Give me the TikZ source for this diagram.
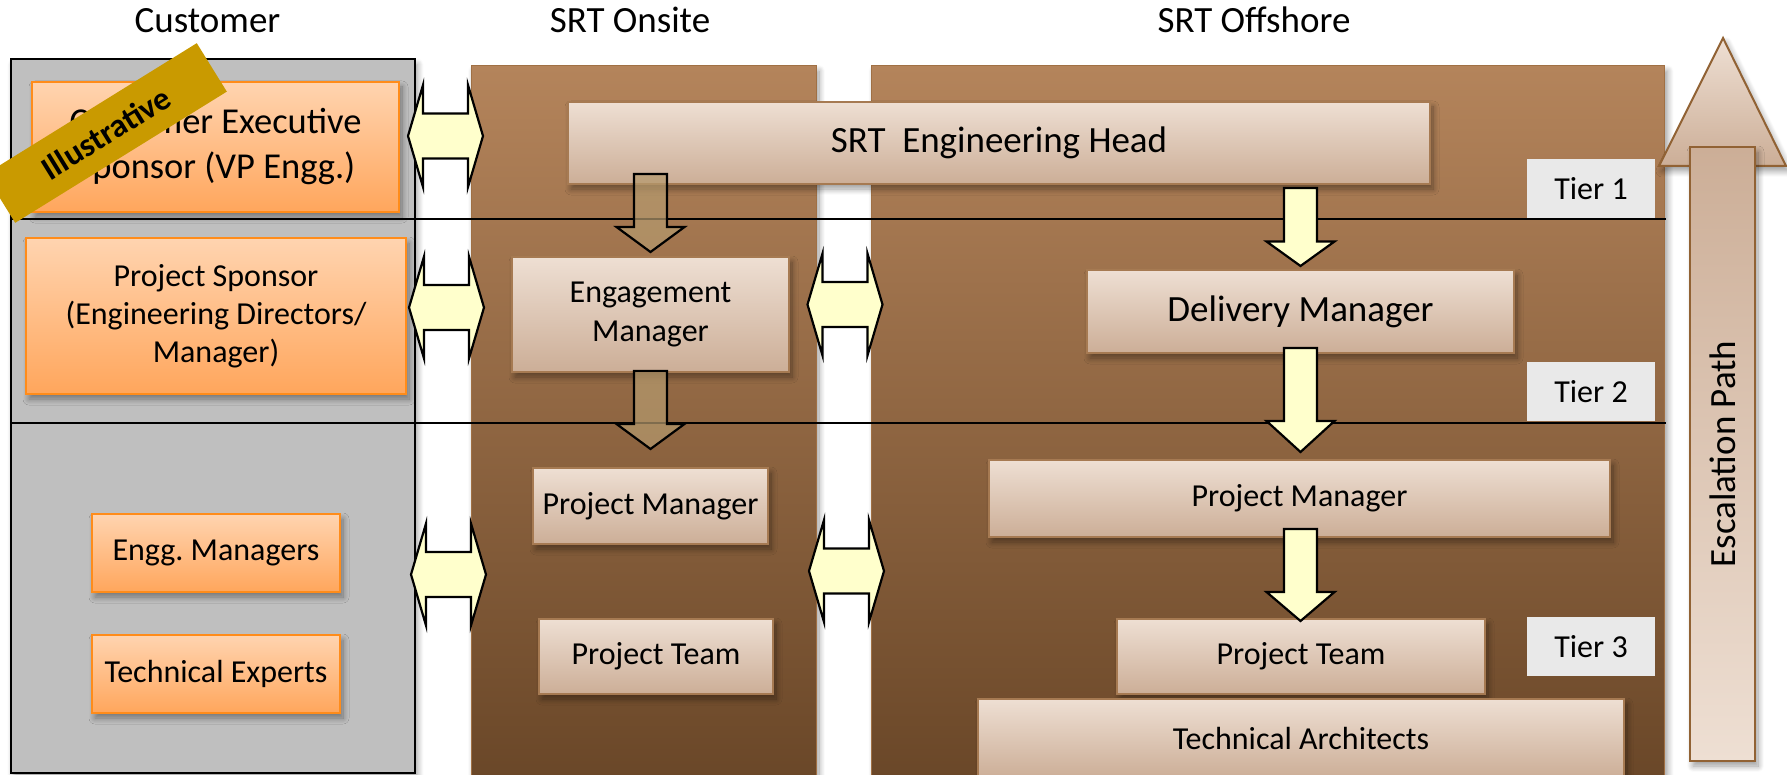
\documentclass[tikz,border=0pt]{standalone}
\usepackage{fontspec}
\setmainfont{Carlito}
\frenchspacing
\usetikzlibrary{shadows,shadows.blur,calc}
\definecolor{browntop}{RGB}{180,132,91}
\definecolor{brownbot}{RGB}{106,71,40}
\definecolor{brownedge}{RGB}{160,112,68}
\definecolor{tantop}{RGB}{238,223,211}
\definecolor{tanbot}{RGB}{204,174,151}
\definecolor{tanedge}{RGB}{166,122,82}
\definecolor{orgtop}{RGB}{255,212,176}
\definecolor{orgbot}{RGB}{255,166,92}
\definecolor{orgedge}{RGB}{255,140,26}
\definecolor{panelgray}{RGB}{191,191,191}
\definecolor{tiergray}{RGB}{233,233,233}
\definecolor{yel}{RGB}{255,255,204}
\definecolor{gold}{RGB}{201,154,0}
\definecolor{escedge}{RGB}{145,98,52}
\definecolor{onarrow}{RGB}{181,154,110}
\tikzset{
 shad/.style={blur shadow={shadow xshift=3pt,shadow yshift=-5pt,shadow blur radius=6pt,shadow blur steps=10,shadow opacity=40}},
 graypanel/.style={draw=black,line width=2pt,fill=panelgray,shad,inner sep=0pt},
 brownpanel/.style={draw=brownedge,line width=1pt,top color=browntop,bottom color=brownbot,shad,inner sep=0pt},
 orgbox/.style={draw=orgedge,line width=2pt,top color=orgtop,bottom color=orgbot,shad,inner sep=0pt,align=center,font=\fontsize{32}{38}\selectfont},
 tanbox/.style={draw=tanedge,line width=2pt,top color=tantop,bottom color=tanbot,shad,inner sep=0pt,align=center,font=\fontsize{32}{39}\selectfont},
 tierbox/.style={fill=tiergray,inner sep=0pt,minimum width=128pt,minimum height=59pt,font=\fontsize{32}{38}\selectfont},
 yelarrow/.style={draw=black,line width=2.2pt,fill=yel,line join=miter},
 onarrowst/.style={draw=black,line width=2.2pt,fill=onarrow,fill opacity=0.7,line join=miter},
 tierline/.style={draw=black,line width=2pt},
 titletext/.style={anchor=base,font=\fontsize{37}{44}\selectfont},
}
\newcommand{\dblarr}[3]{\coordinate (#1) at (#2,#3);
 \draw[yelarrow,shift={(#1)}] (-37.5,0) -- (-22.5,-51) -- (-22.5,-22.5) -- (22.5,-22.5) -- (22.5,-51) -- (37.5,0) -- (22.5,51) -- (22.5,22.5) -- (-22.5,22.5) -- (-22.5,51) -- cycle;}
\newcommand{\blkarr}[4]{%
 \draw[#1] let \p1=(#2), \p2=(#3) in (\x1-16.5pt,\y1) -- (\x1+16.5pt,\y1) -- (\x1+16.5pt,\y2+#4) -- (\x1+34pt,\y2+#4) -- (\x1,\y2) -- (\x1-34pt,\y2+#4) -- (\x1-16.5pt,\y2+#4) -- cycle;}
\begin{document}
\begin{tikzpicture}[x=1pt,y=-1pt]
\useasboundingbox (0,0) rectangle (1787,775);
% panels
\node[graypanel,minimum width=404pt,minimum height=713pt] (gray) at (212.5,416) {};
\node[brownpanel,minimum width=345pt,minimum height=712pt] (onsite) at (643.5,422) {};
\node[brownpanel,minimum width=793pt,minimum height=712pt] (offshore) at (1268,422) {};
% tier lines
\draw[tierline] (11,219) -- (1666,219);
\draw[tierline] (11,423) -- (1666,423);
% customer boxes
\node[orgbox,minimum width=367pt,minimum height=130pt,font=\fontsize{36.5}{45}\selectfont] (cexec) at (215.5,147) {Customer Executive\\Sponsor (VP Engg.)};
\node[orgbox,minimum width=380pt,minimum height=156pt] (psponsor) at (216,316) {Project Sponsor\\(Engineering Directors/\\Manager)};
\node[orgbox,minimum width=248pt,minimum height=78pt] (enggm) at (216,553) {Engg.\ Managers};
\node[orgbox,minimum width=248pt,minimum height=78pt] (techexp) at (216,674) {Technical Experts};
% onsite boxes
\node[tanbox,minimum width=862pt,minimum height=82pt,font=\fontsize{37}{44}\selectfont] (srthead) at (999,143) {SRT~~Engineering Head};
\node[tanbox,minimum width=277pt,minimum height=115pt] (engm) at (650.5,314.5) {Engagement\\Manager};
\node[tanbox,minimum width=235pt,minimum height=76pt] (onpm) at (650.5,506) {Project Manager};
\node[tanbox,minimum width=234pt,minimum height=75pt] (onpt) at (656,656.5) {Project Team};
% offshore boxes
\node[tanbox,minimum width=427pt,minimum height=83pt,font=\fontsize{37}{44}\selectfont] (delm) at (1300.5,311.5) {Delivery Manager};
\node[tanbox,minimum width=621pt,minimum height=77pt] (offpm) at (1299.5,498.5) {Project Manager};
\node[tanbox,minimum width=368pt,minimum height=75pt] (offpt) at (1301,656.5) {Project Team};
\node[tanbox,minimum width=646pt,minimum height=79pt] (techarch) at (1301,738.5) {Technical Architects};
% tier labels
\node[tierbox] (t1) at (1591,188.5) {Tier 1};
\node[tierbox] (t2) at (1591,391.5) {Tier 2};
\node[tierbox] (t3) at (1591,646.5) {Tier 3};
% onsite block arrows
\blkarr{onarrowst}{$(engm.north |- srthead.south)+(0,-11)$}{$(engm.north)+(0,-4)$}{25pt}
\blkarr{onarrowst}{$(engm.south)+(0,-2)$}{$(engm.south |- onpm.north)+(0,-18)$}{25pt}
% offshore block arrows
\blkarr{yelarrow}{$(delm.north |- srthead.south)+(0,3)$}{$(delm.north)+(0,-3)$}{24.5pt}
\blkarr{yelarrow}{$(delm.south)+(0,-6)$}{$(delm.south |- offpm.north)+(0,-7)$}{31pt}
\blkarr{yelarrow}{$(delm.south |- offpm.south)+(0,-9)$}{$(delm.south |- offpt.north)+(0,3)$}{29pt}
% double arrows
\dblarr{da1}{445.5}{136}
\dblarr{da2}{446.5}{307.5}
\dblarr{da3}{845}{304.5}
\dblarr{da4}{448.5}{574.5}
\dblarr{da5}{846.5}{571}
% escalation path
\path[draw=escedge,line width=2pt,top color=tantop,bottom color=tanbot,shad,line join=miter] (1659,166) -- (1723,38) -- (1786,166) -- cycle;
\node[draw=escedge,line width=2pt,top color=tanbot,bottom color=tantop,shad,minimum width=65pt,minimum height=614pt,inner sep=0pt] (escshaft) at (1722.5,454) {};
\node[rotate=90,font=\fontsize{37}{44}\selectfont] (esctext) at (escshaft.center) {Escalation Path};
% banner
\node[fill=gold,minimum width=249pt,minimum height=57pt,rotate=31.8,inner sep=0pt,font=\bfseries\fontsize{33}{40}\selectfont] (banner) at (106,133) {Illustrative};
% titles
\node[titletext] (tcust) at (207.5,33) {Customer};
\node[titletext] (tons) at (630,33) {SRT Onsite};
\node[titletext] (toff) at (1254,33) {SRT Offshore};
\end{tikzpicture}
\end{document}
